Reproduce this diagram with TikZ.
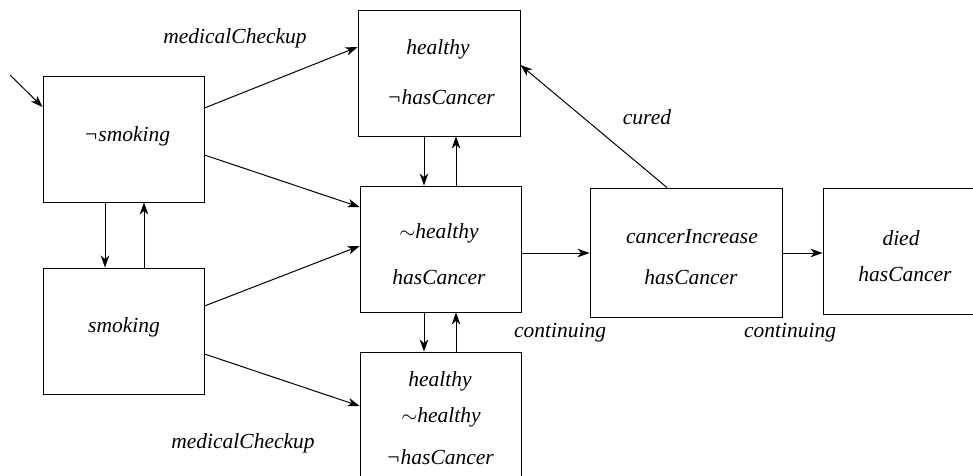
\documentclass[tikz,border=0pt]{standalone}
\usepackage{fontspec}
\setmainfont{Liberation Serif}
\usetikzlibrary{arrows.meta}
\begin{document}
\begin{tikzpicture}[x=1pt,y=-1pt,
  txt/.style={font=\fontsize{21.5}{26}\selectfont\itshape, inner sep=0pt},
  box/.style={draw, line width=0.9pt, inner sep=0pt, minimum width=#1},
  box/.default=161pt,
  conn/.style={line width=1pt, -{Stealth[length=12pt,width=8.5pt,inset=3.5pt]}}]
\useasboundingbox (0,0) rectangle (973,475);
\clip (0,0) rectangle (973,475);
% boxes
\node[box, minimum height=126pt] (A) at (123.5,139) {};
\node[box, minimum height=126pt] (B) at (123.5,331) {};
\node[box=162pt, minimum height=126pt] (H1) at (439,73) {};
\node[box, minimum height=126pt] (H2) at (440.5,249) {};
\node[box, minimum height=126pt] (H3) at (440.5,415) {};
\node[box=192pt, minimum height=129pt] (C) at (686,252.5) {};
\node[box=164pt, minimum height=126pt] (D) at (905,251) {};
% texts
\node[txt] (tA) at (127,136) {¬smoking};
\node[txt] (tB) at (124,327) {smoking};
\node[txt] (tH1a) at (438,49) {healthy};
\node[txt] (tH1b) at (441,97) {¬hasCancer};
\node[txt] (tH2a) at (439,233) {$\sim$healthy};
\node[txt] (tH2b) at (439,277) {hasCancer};
\node[txt] (tH3a) at (440,381) {healthy};
\node[txt] (tH3b) at (441,417) {$\sim$healthy};
\node[txt] (tH3c) at (440,457) {¬hasCancer};
\node[txt] (tCa) at (692,237) {cancerIncrease};
\node[txt] (tCb) at (691,277) {hasCancer};
\node[txt] (tDa) at (901,238) {died};
\node[txt] (tDb) at (905,274) {hasCancer};
% labels
\node[txt] (l1) at (235,38) {medicalCheckup};
\node[txt] (l2) at (243,443) {medicalCheckup};
\node[txt] (l3) at (647,117) {cured};
\node[txt] (l4) at (560,333) {continuing};
\node[txt] (l5) at (790,333) {continuing};
% connectors
\coordinate (init) at (10,75);
\draw[conn] (init) -- (A.west |- 0,107);
\draw[conn] (A.south -| 105,0) -- (B.north -| 105,0);
\draw[conn] (B.north -| 144,0) -- (A.south -| 144,0);
\draw[conn] (A.east |- 0,108) -- (H1.west |- 0,47);
\draw[conn] (A.east |- 0,155) -- (H2.west |- 0,207);
\draw[conn] (B.east |- 0,306) -- (H2.west |- 0,246);
\draw[conn] (B.east |- 0,354) -- (H3.west |- 0,406);
\draw[conn] (H1.south -| 424,0) -- (H2.north -| 424,0);
\draw[conn] (H2.north -| 456,0) -- (H1.south -| 456,0);
\draw[conn] (H2.south -| 424,0) -- (H3.north -| 424,0);
\draw[conn] (H3.north -| 456,0) -- (H2.south -| 456,0);
\draw[conn] (H2.east |- 0,253) -- (C.west |- 0,253);
\draw[conn] (C.east |- 0,253) -- (D.west |- 0,253);
\draw[conn] (C.north -| 667,0) -- (H1.east |- 0,65);
\end{tikzpicture}
\end{document}
